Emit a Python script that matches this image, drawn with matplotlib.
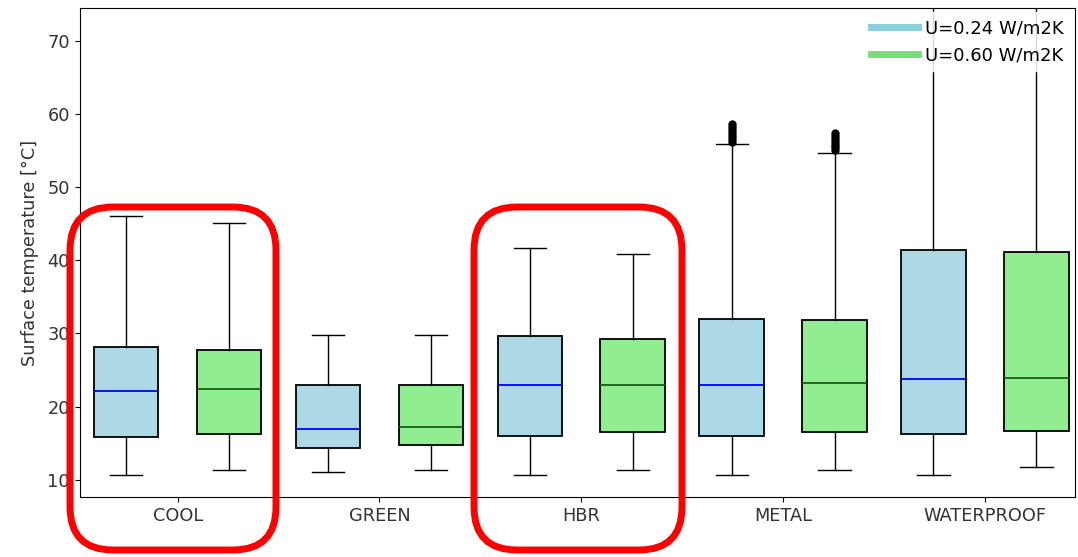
import matplotlib
matplotlib.use("Agg")
import matplotlib.pyplot as plt
from matplotlib.patches import FancyBboxPatch
from matplotlib.lines import Line2D

categories = ["COOL", "GREEN", "HBR", "METAL", "WATERPROOF"]
series_labels = ["U=0.24 W/m2K", "U=0.60 W/m2K"]

# five-number summaries per category: [whislo, q1, median, q3, whishi]
low_u = [
    [10.7, 15.8, 22.2, 28.1, 46.1],
    [11.1, 14.4, 17.0, 22.9, 29.8],
    [10.7, 16.0, 23.0, 29.6, 41.6],
    [10.7, 16.0, 23.0, 32.0, 55.9],
    [10.7, 16.3, 23.8, 41.4, 76.0],
]
high_u = [
    [11.3, 16.3, 22.4, 27.8, 45.1],
    [11.3, 14.8, 17.2, 22.9, 29.8],
    [11.3, 16.5, 23.0, 29.3, 40.8],
    [11.3, 16.5, 23.2, 31.8, 54.7],
    [11.7, 16.7, 23.9, 41.1, 76.0],
]
low_u_outliers = [[], [], [], [56.2, 56.6, 57.0, 57.4, 57.8, 58.2, 58.6], []]
high_u_outliers = [[], [], [], [55.0, 55.4, 55.8, 56.2, 56.6, 57.0, 57.4], []]

fig = plt.figure(figsize=(10.78, 5.57), dpi=100)
ax = fig.add_axes([0.074, 0.107, 0.923, 0.878])

def stats(vals, outs):
    res = []
    for v, o in zip(vals, outs):
        res.append(dict(whislo=v[0], q1=v[1], med=v[2], q3=v[3], whishi=v[4], fliers=o))
    return res

pos = list(range(len(categories)))
off = 0.255
w = 0.32
flier = dict(marker='o', markerfacecolor='black', markeredgecolor='black', markersize=5, linestyle='none')
ax.bxp(stats(low_u, low_u_outliers), positions=[p - off for p in pos], widths=w,
       patch_artist=True, showfliers=True, flierprops=flier,
       boxprops=dict(facecolor='#add8e6', edgecolor='black', linewidth=1.3),
       medianprops=dict(color='blue', linewidth=1.3),
       whiskerprops=dict(color='black', linewidth=1), capprops=dict(color='black', linewidth=1))
ax.bxp(stats(high_u, high_u_outliers), positions=[p + off for p in pos], widths=w,
       patch_artist=True, showfliers=True, flierprops=flier,
       boxprops=dict(facecolor='#90ee90', edgecolor='black', linewidth=1.3),
       medianprops=dict(color='#1a5c1a', linewidth=1.3),
       whiskerprops=dict(color='black', linewidth=1), capprops=dict(color='black', linewidth=1))

ax.set_xticks(pos)
ax.set_xticklabels(categories, fontsize=12.8, color='#333333')
ax.set_xlim(-0.485, 4.445)
ax.set_ylim(7.6, 74.4)
ax.set_yticks([10, 20, 30, 40, 50, 60, 70])
ax.tick_params(axis='y', labelsize=12.8, labelcolor='#333333')
ax.set_ylabel("Surface temperature [°C]", fontsize=12.8, color='#333333', labelpad=6)

handles = [Line2D([0], [0], color='#88d0dc', lw=5), Line2D([0], [0], color='#7bdc7b', lw=5)]
ax.legend(handles, series_labels, loc='upper right', fontsize=13, frameon=True,
          framealpha=0.85, edgecolor='white', handlelength=2.6, handletextpad=0.4,
          borderaxespad=0.2, borderpad=0.4)

# red rounded highlight boxes (figure coordinates)
for x0, x1 in [(70, 276), (474, 682)]:
    y0, y1 = 207, 550
    fx0 = x0 / 1078
    fw = (x1 - x0) / 1078
    fy0 = 1 - y1 / 557
    fh = (y1 - y0) / 557
    rect = FancyBboxPatch((fx0, fy0), fw, fh, boxstyle="round,pad=0,rounding_size=0.04",
                          transform=fig.transFigure, fill=False, edgecolor='red', linewidth=5,
                          mutation_aspect=1078 / 557, clip_on=False)
    fig.add_artist(rect)

fig.savefig("out.png", dpi=100)
